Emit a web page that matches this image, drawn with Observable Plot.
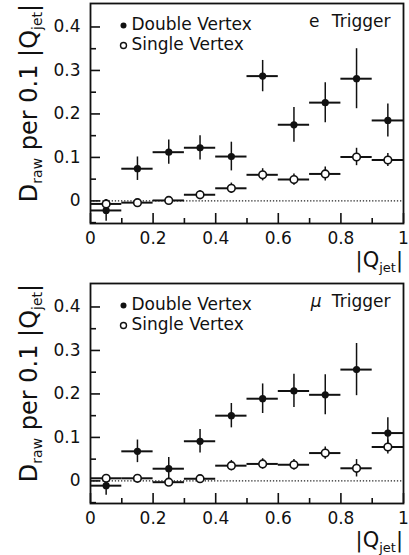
<!DOCTYPE html>
<html>
<head>
<meta charset="utf-8">
<script src="https://cdn.jsdelivr.net/npm/d3@7"></script>
<script src="https://cdn.jsdelivr.net/npm/@observablehq/plot@0.6"></script>
<style>
  html, body { margin: 0; padding: 0; background: #fff; }
  #chart { width: 409px; height: 555px; overflow: hidden; }
  #chart svg { display: block; background: #fff; }
</style>
</head>
<body>
<div id="chart"></div>
<script>
// ---- data ----
const binCenters = [0.05, 0.15, 0.25, 0.35, 0.45, 0.55, 0.65, 0.75, 0.85, 0.95];
const binHalfWidth = 0.05;

const eDouble    = [-0.022, 0.074, 0.112, 0.122, 0.102, 0.287, 0.175, 0.226, 0.281, 0.185];
const eDoubleErr = [0.025, 0.027, 0.028, 0.028, 0.033, 0.036, 0.040, 0.046, 0.069, 0.038];
const eSingle    = [-0.007, -0.004, 0.001, 0.014, 0.029, 0.060, 0.049, 0.062, 0.101, 0.094];
const eSingleErr = [0.010, 0.008, 0.008, 0.010, 0.012, 0.014, 0.013, 0.016, 0.020, 0.015];

const muDouble    = [-0.011, 0.068, 0.028, 0.091, 0.150, 0.189, 0.207, 0.198, 0.256, 0.110];
const muDoubleErr = [0.022, 0.026, 0.026, 0.027, 0.028, 0.034, 0.038, 0.046, 0.060, 0.035];
const muSingle    = [0.006, 0.006, -0.003, 0.005, 0.035, 0.039, 0.037, 0.064, 0.029, 0.078];
const muSingleErr = [0.008, 0.008, 0.008, 0.008, 0.012, 0.012, 0.012, 0.014, 0.020, 0.016];

const xTickValues = [0, 0.2, 0.4, 0.6, 0.8, 1];
const xMinorTicks = [0.1, 0.3, 0.5, 0.7, 0.9];
const yTickValues = [0, 0.1, 0.2, 0.3, 0.4];
const yMinorTicks = [-0.05, 0.05, 0.15, 0.25, 0.35];
const legendLabels = ["Double Vertex", "Single Vertex"];

const FONT = "DejaVu Sans, sans-serif";

function rows(vals, errs) {
  return binCenters.map((x, i) => ({x, y: vals[i], e: errs[i]}));
}

function panel({dbl, dblErr, sgl, sglErr, triggerPrefix, triggerItalic, prefixDx, height, marginBottom}) {
  const D = rows(dbl, dblErr);
  const S = rows(sgl, sglErr);
  const frameW = 409 - 90 - 6;
  const frameH = height - 3 - marginBottom;
  const plot = Plot.plot({
    width: 409,
    height,
    marginLeft: 90,
    marginRight: 6,
    marginTop: 3,
    marginBottom,
    style: {fontFamily: FONT, fontSize: "17px", color: "#111", background: "#fff", overflow: "visible"},
    x: {domain: [0, 1], label: null},
    y: {domain: [-0.052, 0.454], label: null},
    marks: [
      // zero dotted line
      Plot.ruleY([0], {stroke: "#222", strokeWidth: 1.3, strokeDasharray: "1.3,1.8"}),
      // axes labels
      Plot.axisX(xTickValues, {tickSize: 0, tickPadding: 8, fontSize: 17, tickFormat: d => String(d), fill: "#111"}),
      Plot.axisY(yTickValues, {tickSize: 0, tickPadding: 10, fontSize: 17, tickFormat: d => String(d), fill: "#111"}),
      // inward ticks
      Plot.tickX(xTickValues, {x: d => d, insetTop: frameH - 10, stroke: "#111", strokeWidth: 1.6}),
      Plot.tickX(xMinorTicks, {x: d => d, insetTop: frameH - 5, stroke: "#111", strokeWidth: 1.6}),
      Plot.tickY(yTickValues, {y: d => d, insetRight: frameW - 10, stroke: "#111", strokeWidth: 1.6}),
      Plot.tickY(yMinorTicks, {y: d => d, insetRight: frameW - 6, stroke: "#111", strokeWidth: 1.6}),
      // error bars: double vertex
      Plot.ruleY(D, {y: "y", x1: d => d.x - binHalfWidth, x2: d => d.x + binHalfWidth, stroke: "#111", strokeWidth: 2}),
      Plot.ruleX(D, {x: "x", y1: d => d.y - d.e, y2: d => d.y + d.e, stroke: "#111", strokeWidth: 1.5}),
      // error bars: single vertex
      Plot.ruleY(S, {y: "y", x1: d => d.x - binHalfWidth, x2: d => d.x + binHalfWidth, stroke: "#111", strokeWidth: 2}),
      Plot.ruleX(S, {x: "x", y1: d => d.y - d.e, y2: d => d.y + d.e, stroke: "#111", strokeWidth: 1.5}),
      // points
      Plot.dot(D, {x: "x", y: "y", r: 3.6, fill: "#111", stroke: "none"}),
      Plot.dot(S, {x: "x", y: "y", r: 3.8, fill: "#fff", stroke: "#111", strokeWidth: 1.6}),
      // legend
      Plot.dot([legendLabels[0]], {frameAnchor: "top-left", dx: 33, dy: 22, r: 3, fill: "#111"}),
      Plot.dot([legendLabels[1]], {frameAnchor: "top-left", dx: 33, dy: 42, r: 3, fill: "#fff", stroke: "#111", strokeWidth: 1.4}),
      Plot.text([legendLabels[0]], {frameAnchor: "top-left", lineAnchor: "middle", dx: 41, dy: 21, text: d => d, textAnchor: "start", fontSize: 17, fill: "#111"}),
      Plot.text([legendLabels[1]], {frameAnchor: "top-left", lineAnchor: "middle", dx: 41, dy: 41, text: d => d, textAnchor: "start", fontSize: 17, fill: "#111"}),
      // trigger label
      Plot.text(["Trigger"], {frameAnchor: "top-right", lineAnchor: "middle", dx: -13, dy: 18, text: d => d, textAnchor: "end", fontSize: 17, fill: "#111"}),
      Plot.text([triggerPrefix], {frameAnchor: "top-right", lineAnchor: "middle", dx: prefixDx, dy: 18, text: d => d, textAnchor: "end", fontSize: 17, fill: "#111", fontStyle: triggerItalic ? "italic" : "normal"}),
      // frame
      Plot.frame({stroke: "#111", strokeWidth: 1.8})
    ]
  });

  const svg = d3.select(plot);
  // y-axis title with subscripts
  const yt = svg.append("text")
    .attr("transform", "translate(37,103) rotate(-90)")
    .attr("text-anchor", "middle")
    .attr("font-family", FONT)
    .attr("font-size", 24)
    .attr("fill", "#111");
  yt.append("tspan").text("D");
  yt.append("tspan").attr("font-size", 14).attr("dy", 5).text("raw");
  yt.append("tspan").attr("dy", -5).text(" per 0.1 |Q");
  yt.append("tspan").attr("font-size", 14).attr("dy", 5).text("jet");
  yt.append("tspan").attr("dy", -5).text("|");
  // x-axis title
  const xt = svg.append("text")
    .attr("x", 403).attr("y", 267)
    .attr("text-anchor", "end")
    .attr("font-family", FONT)
    .attr("font-size", 21)
    .attr("fill", "#111");
  xt.append("tspan").text("|Q");
  xt.append("tspan").attr("font-size", 13).attr("dy", 5).text("jet");
  xt.append("tspan").attr("dy", -5).text("|");
  return plot;
}

const chart = document.getElementById("chart");
chart.appendChild(panel({dbl: eDouble, dblErr: eDoubleErr, sgl: eSingle, sglErr: eSingleErr,
  triggerPrefix: "e", triggerItalic: false, prefixDx: -84, height: 280, marginBottom: 57}));
chart.appendChild(panel({dbl: muDouble, dblErr: muDoubleErr, sgl: muSingle, sglErr: muSingleErr,
  triggerPrefix: "μ", triggerItalic: true, prefixDx: -82, height: 275, marginBottom: 52}));
</script>
</body>
</html>
